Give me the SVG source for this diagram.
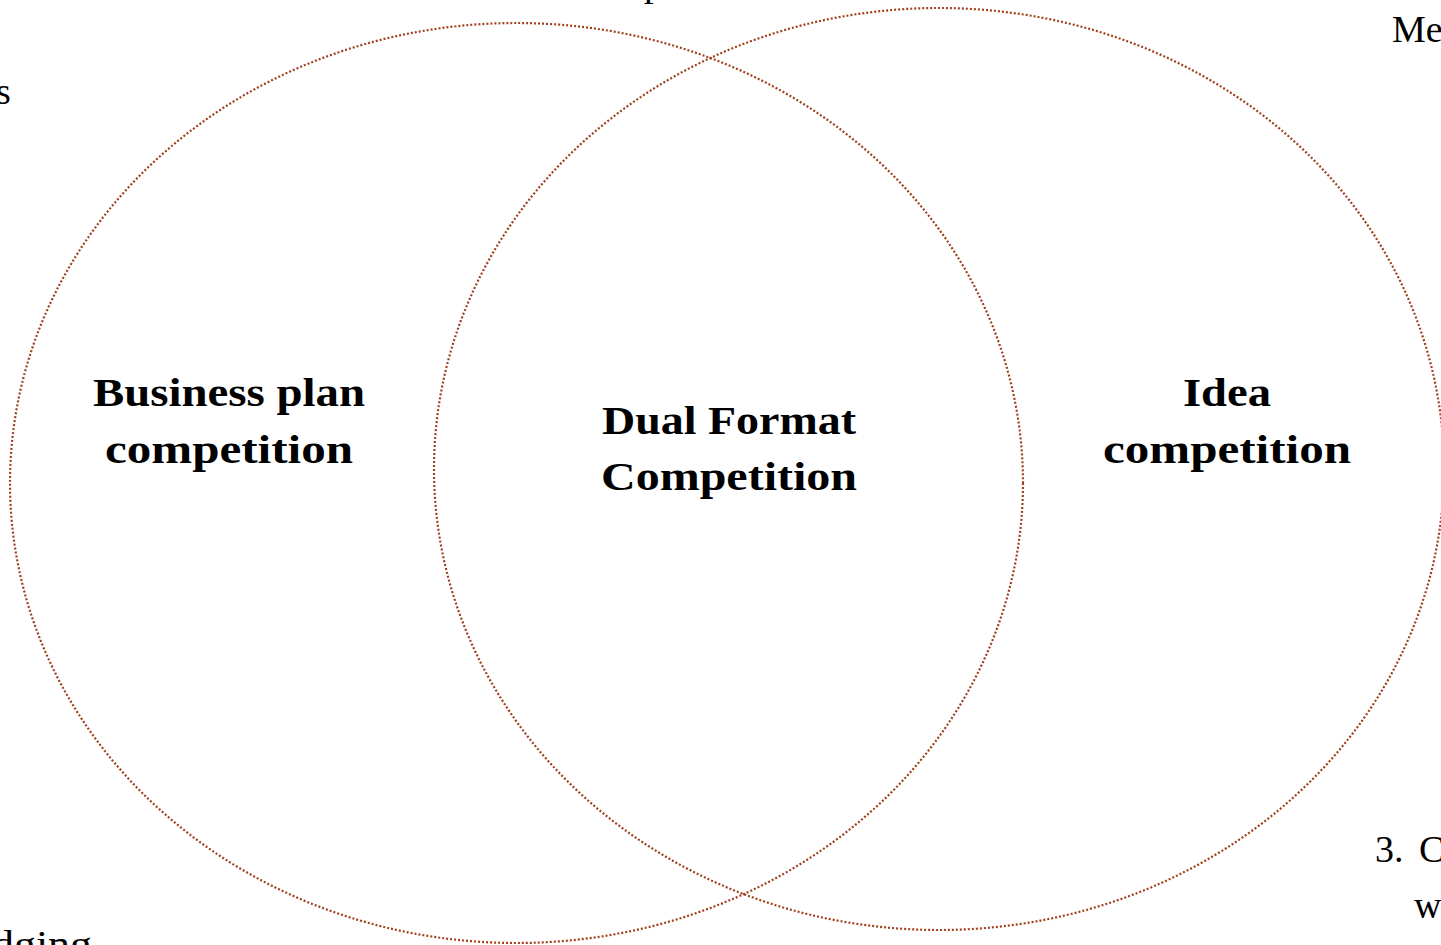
<svg xmlns="http://www.w3.org/2000/svg" width="1441" height="945" viewBox="0 0 1441 945">
<style>
.c{fill:none;stroke:#A0401C;stroke-width:2.2;stroke-dasharray:2 2}
.l{font-family:"Liberation Serif",serif;font-weight:bold;font-size:40px;fill:#000;text-anchor:middle}
.f{font-family:"Liberation Serif",serif;font-size:38px;fill:#000}
</style>
<rect width="1441" height="945" fill="#fff"/>
<g id="fragments">
<text class="f" x="644" y="-4">p</text>
<text class="f" x="1392" y="42">Me</text>
<text class="f" x="-4" y="104">s</text>
<text class="f" x="-8" y="957" textLength="100" lengthAdjust="spacingAndGlyphs">dging</text>
<text class="f" x="1375" y="862">3.<tspan x="1419">C</tspan></text>
<text class="f" x="1414" y="918">w</text>
</g>
<g id="connectors"></g>
<g id="business">
<ellipse class="c" cx="516.5" cy="483" rx="506.5" ry="460"/>
<text class="l" x="229" y="406" textLength="272" lengthAdjust="spacingAndGlyphs">Business plan</text>
<text class="l" x="229" y="463" textLength="248" lengthAdjust="spacingAndGlyphs">competition</text>
</g>
<g id="idea">
<ellipse class="c" cx="939" cy="469" rx="505" ry="461"/>
<text class="l" x="1227" y="406" textLength="88" lengthAdjust="spacingAndGlyphs">Idea</text>
<text class="l" x="1227" y="463" textLength="248" lengthAdjust="spacingAndGlyphs">competition</text>
</g>
<g id="dual">
<text class="l" x="729" y="434" textLength="254" lengthAdjust="spacingAndGlyphs">Dual Format</text>
<text class="l" x="729" y="490" textLength="256" lengthAdjust="spacingAndGlyphs">Competition</text>
</g>
</svg>
